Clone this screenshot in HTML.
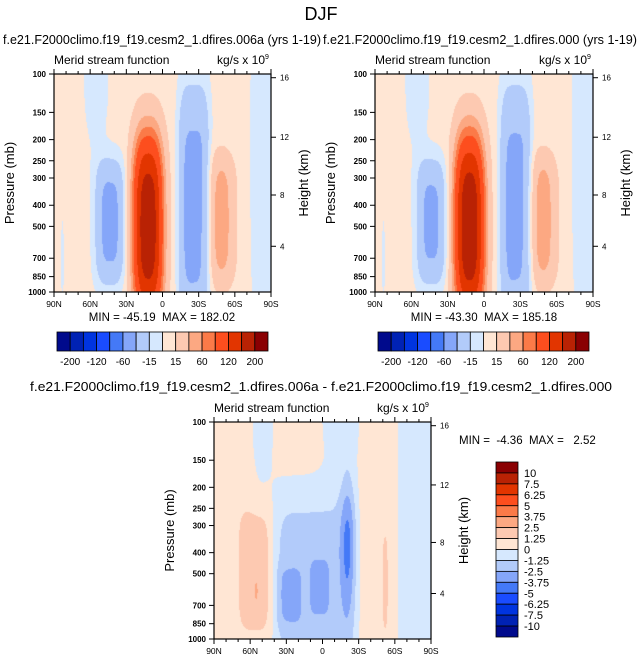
<!DOCTYPE html>
<html><head><meta charset="utf-8"><style>
html,body{margin:0;padding:0;background:#fff;width:643px;height:663px;overflow:hidden}
#root{position:relative;width:643px;height:663px}
canvas{position:absolute}
svg{position:absolute;left:0;top:0}
text{font-family:"Liberation Sans",sans-serif;fill:#000;white-space:pre}
</style></head><body>
<div id="root">
<canvas id="c1"></canvas>
<canvas id="c2"></canvas>
<canvas id="c3"></canvas>
<svg id="s" width="643" height="663"></svg>
</div>
<script>
// ---- data ----
const colors = ['#000a8c','#0022b4','#0034e0','#1a4cff','#4479f7','#85a6f9','#b2cbfa','#d6e8fe','#ffe6d4','#fdc9b1','#fca882','#fb7a48','#fd4e1e','#e23500','#b92204','#8a0002'];
const levelsTop = [-200,-160,-120,-80,-60,-40,-15,0,15,40,60,80,120,160,200];
const levelsDiff = [-10,-7.5,-6.25,-5,-3.75,-2.5,-1.25,0,1.25,2.5,3.75,5,6.25,7.5,10];
const topLabels = ['-200','-120','-60','-15','15','60','120','200'];
const diffLabels = ['10','7.5','6.25','5','3.75','2.5','1.25','0','-1.25','-2.5','-3.75','-5','-6.25','-7.5','-10'];
const pressureTicks = [100,150,200,250,300,400,500,700,850,1000];
const heightTicks = ['16','12','8','4'];
const heightPressures = [104,195,359,617];
const latTicks = ['90N','60N','30N','0','30S','60S','90S'];

// left panel field components (lat deg, pressure mb, amplitude, widths)
const aLat = [12, 43.5, 55, -26, -49, -82, 83];
const aP   = [500, 479, 112, 407, 468, 251, 708];
const aAmp = [185, -52, -12, -52, 47, -12, -10];
const aSu  = [9.5, 9.8, 7.5, 10.9, 7.5, 8, 1];
const aSv  = [0.34, 0.245, 0.22, 0.477, 0.257, 0.6, 0.15];
const aPu  = [2.5, 3, 2, 4, 2, 4, 2];
const aPv  = [3, 4, 2, 4, 4, 4, 2];
// right panel
const bLat = [12, 43.5, 55, -26, -49, -82, 83];
const bP   = [500, 479, 112, 407, 468, 251, 708];
const bAmp = [188, -50, -12, -51, 48, -12, -10];
const bSu  = [9.5, 9.8, 7.5, 10.9, 7.5, 8, 1];
const bSv  = [0.34, 0.245, 0.22, 0.477, 0.257, 0.6, 0.15];
const bPu  = [2.5, 3, 2, 4, 2, 4, 2];
const bPv  = [3, 4, 2, 4, 4, 4, 2];
// difference panel
const dLat = [56.5, 55, 6, 27, 2.5, -21, -52, -78, 49.5, -15];
const dP   = [479, 603, 562, 631, 575, 363, 550, 251, 100, 100];
const dAmp = [1.4, 1.0, -2.4, -1.3, -1.3, -2.8, 1.2, -1.5, -1.2, -1.2];
const dSu  = [11.7, 1, 32, 9, 7.5, 4.3, 1.8, 13, 7.2, 12.7];
const dSv  = [0.25, 0.035, 0.39, 0.12, 0.12, 0.234, 0.2, 1.2, 0.25, 0.17];
const dPu  = [4, 2, 8, 4, 4, 2, 2, 4, 2, 2];
const dPv  = [4, 2, 4, 4, 4, 2, 4, 4, 2, 2];

const panels = [
 {id:'c1',name:'left',x:54,y:74,w:217,h:218,base:5,lat:aLat,p:aP,amp:aAmp,su:aSu,sv:aSv,pu:aPu,pv:aPv,levels:levelsTop},
 {id:'c2',name:'right',x:375,y:74,w:218,h:218,base:5,lat:bLat,p:bP,amp:bAmp,su:bSu,sv:bSv,pu:bPu,pv:bPv,levels:levelsTop},
 {id:'c3',name:'diff',x:214,y:422,w:217,h:217,base:0.6,lat:dLat,p:dP,amp:dAmp,su:dSu,sv:dSv,pu:dPu,pv:dPv,levels:levelsDiff}
];
function vOf(p){return Math.log10(p/100);}
function xOf(P,lat){return P.x+(90-lat)/180*P.w;}
function yOf(P,p){return P.y+vOf(p)*P.h;}

panels.forEach(P=>{
  const c=document.getElementById(P.id);
  c.width=P.w;c.height=P.h;c.style.left=P.x+'px';c.style.top=P.y+'px';
  const ctx=c.getContext('2d');
  const img=ctx.createImageData(P.w,P.h);
  const rgb=colors.map(h=>[parseInt(h.substr(1,2),16),parseInt(h.substr(3,2),16),parseInt(h.substr(5,2),16)]);
  for(let j=0;j<P.h;j++){
    const v=(j+0.5)/P.h;
    for(let i=0;i<P.w;i++){
      const lat=90-(i+0.5)/P.w*180;
      let val=P.base;
      for(let k=0;k<P.lat.length;k++){
        const du=Math.abs((lat-P.lat[k])/P.su[k]);
        const dv=Math.abs((v-vOf(P.p[k]))/P.sv[k]);
        val+=P.amp[k]*Math.exp(-0.5*(Math.pow(du,P.pu[k])+Math.pow(dv,P.pv[k])));
      }
      let idx=0;for(const L of P.levels){if(val>L)idx++;}
      const col=rgb[idx];const o=(j*P.w+i)*4;
      img.data[o]=col[0];img.data[o+1]=col[1];img.data[o+2]=col[2];img.data[o+3]=255;
    }
  }
  ctx.putImageData(img,0,0);
});

const S=document.getElementById('s');
const NS='http://www.w3.org/2000/svg';
function mk(tag,attrs,parent){const e=document.createElementNS(NS,tag);for(const k in attrs)e.setAttribute(k,attrs[k]);(parent||S).appendChild(e);return e;}
function txt(str,x,y,size,anchor,extra){const t=mk('text',Object.assign({x:x,y:y,'font-size':size,'text-anchor':anchor||'start'},extra||{}));t.textContent=str;return t;}

let t;
t=txt('DJF',321,20,18,'middle');


t=txt('f.e21.F2000climo.f19_f19.cesm2_1.dfires.006a (yrs 1-19)',3,44,13,'start',{textLength:318,lengthAdjust:'spacingAndGlyphs'});


t=txt('f.e21.F2000climo.f19_f19.cesm2_1.dfires.000 (yrs 1-19)',323,44,13,'start',{textLength:314,lengthAdjust:'spacingAndGlyphs'});


t=txt('f.e21.F2000climo.f19_f19.cesm2_1.dfires.006a - f.e21.F2000climo.f19_f19.cesm2_1.dfires.000',30,391,13,'start',{textLength:582,lengthAdjust:'spacingAndGlyphs'});



panels.forEach(P=>{
  const g=mk('g',{});
  
  
  const fr=mk('rect',{x:P.x,y:P.y,width:P.w,height:P.h,fill:'none',stroke:'#000','stroke-width':1.2},g);
  
  
  for(let lat=90;lat>=-90;lat-=10){
    const x=xOf(P,lat);const major=(lat%30===0);const L=major?5:3;
    mk('line',{x1:x,y1:P.y+P.h,x2:x,y2:P.y+P.h+L,stroke:'#000','stroke-width':1},g);
    mk('line',{x1:x,y1:P.y,x2:x,y2:P.y-L,stroke:'#000','stroke-width':1},g);
  }
  latTicks.forEach((s,i)=>{
    const lt=txt(s,xOf(P,90-i*30),P.y+P.h+15,8.5,'middle');
    g.appendChild(lt);
    
    
  });
  pressureTicks.forEach(p=>{
    const y=yOf(P,p);
    mk('line',{x1:P.x-5,y1:y,x2:P.x,y2:y,stroke:'#000','stroke-width':1},g);
    const lt=txt(String(p),P.x-8,y+3,8,'end',{'font-weight':'bold'});
    g.appendChild(lt);
    
    
  });
  heightTicks.forEach((s,i)=>{
    const y=yOf(P,heightPressures[i]);
    mk('line',{x1:P.x+P.w,y1:y,x2:P.x+P.w+5,y2:y,stroke:'#000','stroke-width':1},g);
    const lt=txt(s,P.x+P.w+9,y+3,8,'start');
    g.appendChild(lt);
    
    
  });
  const yc=P.y+P.h/2;
  let a=txt('Pressure (mb)',0,0,13,'middle',{transform:'translate('+(P.x-40)+','+yc+') rotate(-90)'});
  
  
  a=txt('Height (km)',0,0,13,'middle',{transform:'translate('+(P.x+P.w+37)+','+yc+') rotate(-90)'});
  
  
  a=txt('Merid stream function',P.x,P.y-10,12,'start');
  
  
  a=txt('kg/s x 10',P.x+P.w-6,P.y-10,12,'end');
  
  
  a=txt('9',P.x+P.w-6,P.y-15,7,'start');
  
  
});

let m=txt('MIN = -45.19  MAX = 182.02',162,321,11.5,'middle');


m=txt('MIN = -43.30  MAX = 185.18',484,321,11.5,'middle');


m=txt('MIN =  -4.36  MAX =   2.52',459,444,11.5,'start');



[[57,'left'],[378,'right']].forEach(([x0,nm])=>{
  const W=211,y0=332,Hh=19,bw=W/colors.length;
  colors.forEach((c,i)=>{
    const r=mk('rect',{x:x0+i*bw,y:y0,width:bw,height:Hh,fill:c,stroke:'#000','stroke-width':0.8});
    
    
  });
  topLabels.forEach((s,i)=>{
    const l=txt(s,x0+(1+2*i)*bw,365,10,'middle');
    
    
  });
});
(function(){
  const x0=496,y0=462,Wv=22,Hv=175,bh=Hv/colors.length;
  colors.slice().reverse().forEach((c,i)=>{
    const r=mk('rect',{x:x0,y:y0+i*bh,width:Wv,height:bh,fill:c,stroke:'#000','stroke-width':0.8});
    
    
  });
  diffLabels.forEach((s,i)=>{
    const l=txt(s,524,y0+(i+1)*bh+4,11,'start');
    
    
  });
})();
</script>
</body></html>
